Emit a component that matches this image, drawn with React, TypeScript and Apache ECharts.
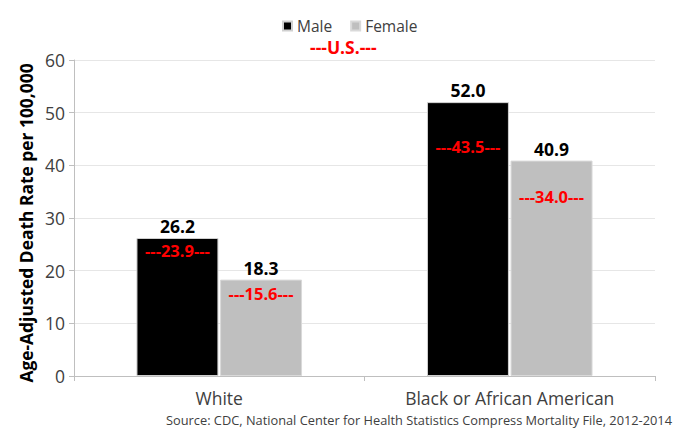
import React, { useEffect, useRef } from "react";
import * as echarts from "echarts";

const categories = ["White", "Black or African American"];
const maleValues = [26.2, 52.0];
const femaleValues = [18.3, 40.9];
const usMale = [23.9, 43.5];
const usFemale = [15.6, 34.0];
const yTicks = { min: 0, max: 60, interval: 10 };

const FONT = "'Open Sans', 'Noto Sans', sans-serif";

function usMarks(vals: number[]) {
  return {
    symbol: "rect",
    symbolSize: 0,
    silent: true,
    label: {
      show: true,
      position: "inside",
      formatter: (p: any) => `---${Number(p.value).toFixed(1)}---`,
      color: "#ff0000",
      fontWeight: "bold",
      fontSize: 16.5,
      fontFamily: FONT,
    },
    data: vals.map((v, i) => ({ coord: [i, v], value: v })),
  };
}

export default function App() {
  const ref = useRef<HTMLDivElement>(null);
  useEffect(() => {
    if (!ref.current) return;
    const chart = echarts.init(ref.current, undefined, { renderer: "svg" });
    chart.setOption({
      animation: false,
      textStyle: { fontFamily: FONT },
      legend: {
        top: 13,
        left: 277,
        icon: "rect",
        itemWidth: 9,
        itemHeight: 9,
        itemGap: 18,
        textStyle: { fontSize: 15.5, color: "#404040", fontFamily: FONT },
        data: ["Male", "Female"],
      },
      graphic: [
        {
          type: "text",
          left: 310,
          top: 38,
          style: {
            text: "---U.S.---",
            fill: "#ff0000",
            font: `bold 17.5px ${FONT}`,
          },
        },
        {
          type: "text",
          right: 1,
          top: 413,
          style: {
            text: "Source: CDC, National Center for Health Statistics Compress Mortality File, 2012-2014",
            fill: "#404040",
            font: `12.8px ${FONT}`,
          },
        },
      ],
      grid: { left: 74, right: 18, top: 60, bottom: 54, containLabel: false },
      xAxis: {
        type: "category",
        data: categories,
        axisLine: { show: true, lineStyle: { color: "#bfbfbf", width: 1 } },
        axisTick: { show: true, length: 5, lineStyle: { color: "#bfbfbf" } },
        axisLabel: { fontSize: 17.5, color: "#404040", margin: 13, fontFamily: FONT },
      },
      yAxis: {
        type: "value",
        min: yTicks.min,
        max: yTicks.max,
        interval: yTicks.interval,
        name: "Age-Adjusted Death Rate per 100,000",
        nameLocation: "middle",
        nameGap: 40,
        nameTextStyle: {
          fontSize: 17.4,
          fontWeight: "bold",
          color: "#000",
          fontFamily: FONT,
          padding: [0, 10, 0, 0],
        },
        axisLine: { show: true, lineStyle: { color: "#bfbfbf", width: 1 } },
        axisTick: { show: true, length: 5, lineStyle: { color: "#bfbfbf" } },
        axisLabel: { fontSize: 17.5, color: "#404040", margin: 9, fontFamily: FONT },
        splitLine: { show: true, lineStyle: { color: "#e6e6e6", width: 1 } },
      },
      series: [
        {
          name: "Male",
          type: "bar",
          data: maleValues,
          barGap: "2%",
          barCategoryGap: "43%",
          itemStyle: { color: "#000000", borderColor: "#d0d0d0", borderWidth: 1 },
          label: {
            show: true,
            position: "top",
            distance: 3,
            formatter: (p: any) => Number(p.value).toFixed(1),
            fontSize: 17.5,
            fontWeight: "bold",
            color: "#000",
            fontFamily: FONT,
          },
          markPoint: usMarks(usMale),
        },
        {
          name: "Female",
          type: "bar",
          data: femaleValues,
          barGap: "2%",
          barCategoryGap: "43%",
          itemStyle: { color: "#bfbfbf", borderColor: "#d9d9d9", borderWidth: 1 },
          label: {
            show: true,
            position: "top",
            distance: 3,
            formatter: (p: any) => Number(p.value).toFixed(1),
            fontSize: 17.5,
            fontWeight: "bold",
            color: "#000",
            fontFamily: FONT,
          },
          markPoint: usMarks(usFemale),
        },
      ],
    });
    return () => chart.dispose();
  }, []);
  return (
    <div
      ref={ref}
      style={{ position: "absolute", left: 0, top: 0, width: 673, height: 430 }}
    />
  );
}
